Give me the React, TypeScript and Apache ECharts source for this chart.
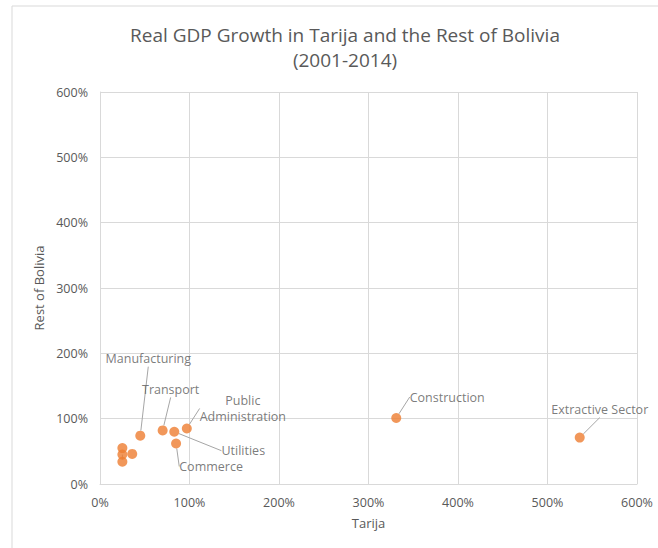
import React, { useEffect, useRef } from "react";
import * as echarts from "echarts";

const sectorNames = [
  "",
  "",
  "",
  "",
  "Manufacturing",
  "Transport",
  "Utilities",
  "Commerce",
  "Public\nAdministration",
  "Construction",
  "Extractive Sector",
];
const tarijaGrowth = [25, 25, 25, 36, 45, 70, 83, 85, 97, 331, 536];
const restOfBoliviaGrowth = [55, 45, 34, 46, 74, 82, 80, 62, 85, 101, 71];
const tickValues = [0, 100, 200, 300, 400, 500, 600];

// label offsets (label centre relative to point), layout only
const labelOffsets: Record<string, [number, number]> = {
  Manufacturing: [8, -77],
  Transport: [8, -41],
  Utilities: [69, 19],
  Commerce: [35, 23],
  "Public\nAdministration": [56, -20],
  Construction: [51, -21],
  "Extractive Sector": [20, -28],
};

const FONT = "'Open Sans', 'Noto Sans', sans-serif";
const GREY = "#595959";

export default function App() {
  const ref = useRef<HTMLDivElement>(null);
  useEffect(() => {
    if (!ref.current) return;
    const chart = echarts.init(ref.current, null, { renderer: "svg" });
    const data = tarijaGrowth.map((x, i) => ({
      value: [x, restOfBoliviaGrowth[i]],
      name: sectorNames[i],
    }));
    chart.setOption({
      animation: false,
      backgroundColor: "#ffffff",
      textStyle: { fontFamily: FONT },
      title: {
        text: "Real GDP Growth in Tarija and the Rest of Bolivia\n(2001-2014)",
        left: 340,
        top: 17,
        textAlign: "center",
        textStyle: {
          fontFamily: FONT,
          fontSize: 19,
          fontWeight: "normal",
          color: GREY,
          lineHeight: 25,
        },
      },
      graphic: [
        {
          type: "rect",
          shape: { x: 12, y: 6, width: 700, height: 600 },
          style: { fill: "none", stroke: "#d9d9d9", lineWidth: 1 },
          silent: true,
        },
      ],
      grid: { left: 100, right: 21, top: 92, bottom: 64 },
      xAxis: {
        type: "value",
        min: 0,
        max: 600,
        interval: 100,
        name: "Tarija",
        nameLocation: "middle",
        nameGap: 32,
        nameTextStyle: { color: GREY, fontSize: 13, fontFamily: FONT },
        axisLine: { show: true, lineStyle: { color: "#d9d9d9" } },
        axisTick: { show: false },
        splitLine: { show: true, lineStyle: { color: "#d9d9d9" } },
        axisLabel: {
          color: GREY,
          fontSize: 12.5,
          margin: 12,
          fontFamily: FONT,
          formatter: (v: number) => (tickValues.includes(v) ? v + "%" : ""),
        },
      },
      yAxis: {
        type: "value",
        min: 0,
        max: 600,
        interval: 100,
        name: "Rest of Bolivia",
        nameLocation: "middle",
        nameGap: 52,
        nameTextStyle: { color: GREY, fontSize: 13, fontFamily: FONT },
        axisLine: { show: true, lineStyle: { color: "#d9d9d9" } },
        axisTick: { show: false },
        splitLine: { show: true, lineStyle: { color: "#d9d9d9" } },
        axisLabel: {
          color: GREY,
          fontSize: 12.5,
          margin: 12,
          fontFamily: FONT,
          formatter: (v: number) => v + "%",
        },
      },
      series: [
        {
          type: "scatter",
          data,
          symbolSize: 10,
          itemStyle: { color: "#ED7D31" },
          label: {
            show: true,
            position: "inside",
            formatter: (p: any) => p.name,
            color: GREY,
            fontSize: 12.5,
            fontFamily: FONT,
            align: "center",
            verticalAlign: "middle",
            lineHeight: 16,
          },
          labelLine: {
            show: true,
            lineStyle: { color: "#a6a6a6", width: 1 },
          },
          labelLayout: (params: any) => {
            const name = sectorNames[params.dataIndex];
            const off = labelOffsets[name];
            if (!off) return {};
            return { dx: off[0], dy: off[1] };
          },
        },
      ],
    });
    return () => chart.dispose();
  }, []);
  return (
    <div
      ref={ref}
      style={{ position: "fixed", left: 0, top: 0, width: 658, height: 548 }}
    />
  );
}
